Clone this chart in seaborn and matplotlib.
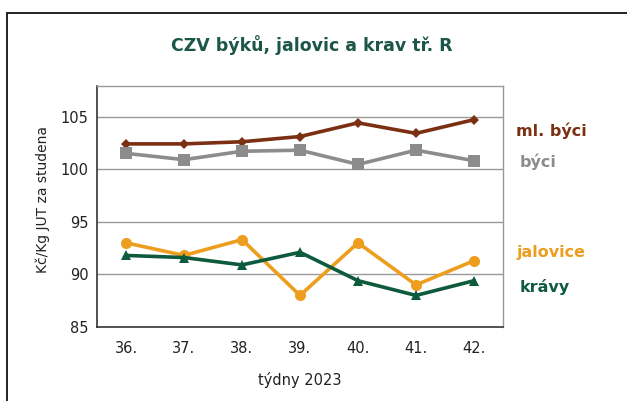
import numpy as np
import pandas as pd
import matplotlib
matplotlib.use("Agg")
import matplotlib.pyplot as plt
from matplotlib.patches import Rectangle
import seaborn as sns

weeks = ["36.", "37.", "38.", "39.", "40.", "41.", "42."]
ml_byci = [102.4, 102.4, 102.6, 103.1, 104.4, 103.4, 104.7]
byci = [101.5, 100.9, 101.7, 101.8, 100.45, 101.8, 100.8]
jalovice = [93.0, 91.8, 93.3, 88.0, 93.0, 89.0, 91.3]
kravy = [91.8, 91.6, 90.9, 92.1, 89.4, 88.0, 89.4]

series_names = ["ml. býci", "býci", "jalovice", "krávy"]
colors = ["#7B3014", "#8C8C8C", "#EE9E1E", "#0E5A3C"]
markers = ["D", "s", "o", "^"]
msizes = [5.5, 8, 8, 7.5]

sns.set_theme(style="white")
plt.rcParams['font.family'] = ['DejaVu Sans']

rows = []
for name, vals in zip(series_names, [ml_byci, byci, jalovice, kravy]):
    for i, v in enumerate(vals):
        rows.append({"pos": i, "value": v, "series": name})
df = pd.DataFrame(rows)

fig = plt.figure(figsize=(6.27, 4.01), dpi=100)
ax = fig.add_axes([97/627, 1-327/401, (503-97)/627, (327-86)/401])

for name, c, m, ms in zip(series_names, colors, markers, msizes):
    sub = df[df["series"] == name]
    sns.lineplot(data=sub, x="pos", y="value", ax=ax, color=c, marker=m,
                 markersize=ms, markeredgewidth=0, linewidth=2.6, legend=False,
                 zorder=3)

ax.set_xlim(-0.5, 6.5)
ax.set_ylim(85, 107.9)
ax.set_yticks([85, 90, 95, 100, 105])
ax.set_yticklabels(["85", "90", "95", "100", "105"], fontsize=10.5, color="#222222")
ax.set_xticks(range(7))
ax.set_xticklabels(weeks, fontsize=10.5, color="#222222")
ax.set_xticks(np.arange(-0.5, 7.0, 1.0), minor=True)
ax.tick_params(axis="x", which="major", length=0, pad=10)
ax.tick_params(axis="x", which="minor", length=5, width=1, color="#222222", direction="out")
ax.tick_params(axis="y", which="major", length=6, width=1, color="#222222", direction="inout", pad=3)

for y in [90, 95, 100, 105]:
    ax.axhline(y, color="#999999", lw=1, zorder=1)

for s in ["left", "bottom"]:
    ax.spines[s].set_color("#222222")
    ax.spines[s].set_linewidth(1.1)
for s in ["top", "right"]:
    ax.spines[s].set_color("#999999")
    ax.spines[s].set_linewidth(1.0)

ax.set_xlabel("týdny 2023", fontsize=10.5, color="#222222", va="center")
ax.xaxis.set_label_coords(0.5, -(380-327)/241)
ax.set_ylabel("Kč/Kg JUT za studena", fontsize=10, color="#222222", va="center")
ax.yaxis.set_label_coords(-(97-43)/406, 0.53)

fig.text(312/627, 1-45/401, "CZV býků, jalovic a krav tř. R", ha="center", va="center",
         fontsize=12.5, fontweight="bold", color="#1B5648")

label_pos = [(516, 131), (520, 162), (516, 252), (520, 287)]
for name, c, (x, y) in zip(series_names, colors, label_pos):
    fig.text(x/627, 1-y/401, name, ha="left", va="center", fontsize=11.5,
             fontweight="bold", color=c)

frame = Rectangle((7/627, -0.1), 1.0, (401-13)/401 + 0.1, transform=fig.transFigure,
                  fill=False, edgecolor="#111111", linewidth=1.3, clip_on=False)
fig.patches.append(frame)

fig.savefig("out.png", dpi=100)
